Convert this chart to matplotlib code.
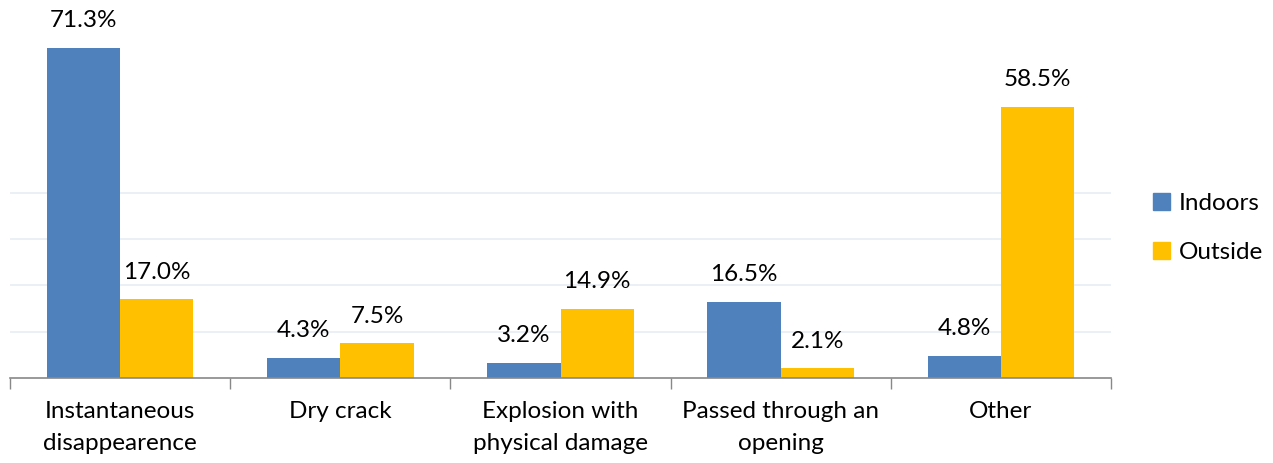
import numpy as np
from matplotlib import pyplot as plt
from matplotlib.patches import Patch

categories = ['Instantaneous\ndisappearence', 'Dry crack', 'Explosion with\nphysical damage',
              'Passed through an\nopening', 'Other']
indoors = [71.3, 4.3, 3.2, 16.5, 4.8]
outside = [17.0, 7.5, 14.9, 2.1, 58.5]
series_names = ['Indoors', 'Outside']

blue = '#4F81BD'
yellow = '#FFC000'

plt.rcParams['font.family'] = ['Lato', 'DejaVu Sans']
fs = 17.5

fig = plt.figure(figsize=(12.73, 4.63), dpi=100)
ax = fig.add_axes([10 / 1273, 1 - 378 / 463, 1101 / 1273, 378 / 463])

x = np.arange(len(categories))
w = 0.333
b1 = ax.bar(x - w / 2, indoors, w, color=blue)
b2 = ax.bar(x + w / 2, outside, w, color=yellow)

for bars, vals in ((b1, indoors), (b2, outside)):
    for bar, v in zip(bars, vals):
        ax.text(bar.get_x() + bar.get_width() / 2, v + 3.6, f'{v:.1f}%',
                ha='center', va='bottom', fontsize=fs, color='#000000')

ax.set_xlim(-0.5, len(categories) - 0.5)
ax.set_ylim(0, 81.6)

ax.set_yticks([10, 20, 30, 40])
ax.yaxis.grid(True, color='#E8ECF5', linewidth=1.2)
ax.set_axisbelow(True)
ax.tick_params(axis='y', left=False, labelleft=False)

# category boundaries as ticks, labels at centers
ax.set_xticks(np.arange(len(categories) + 1) - 0.5)
ax.set_xticklabels([])
ax.tick_params(axis='x', direction='out', length=8, color='#888888', width=1)
for xi, lab in zip(x, categories):
    ax.text(xi, -5.0, lab, ha='center', va='top', fontsize=fs, linespacing=1.65,
            transform=ax.transData)

for s in ['top', 'right', 'left']:
    ax.spines[s].set_visible(False)
ax.spines['bottom'].set_color('#888888')
ax.spines['bottom'].set_linewidth(1.2)

handles = [Patch(color=blue), Patch(color=yellow)]
fig.legend(handles, series_names, loc='center left', bbox_to_anchor=(1153 / 1273, 1 - 228 / 463),
           frameon=False, fontsize=fs, handlelength=0.7, handleheight=0.7,
           handletextpad=0.35, labelspacing=1.15, borderpad=0, borderaxespad=0)

fig.savefig('out.png', dpi=100)
